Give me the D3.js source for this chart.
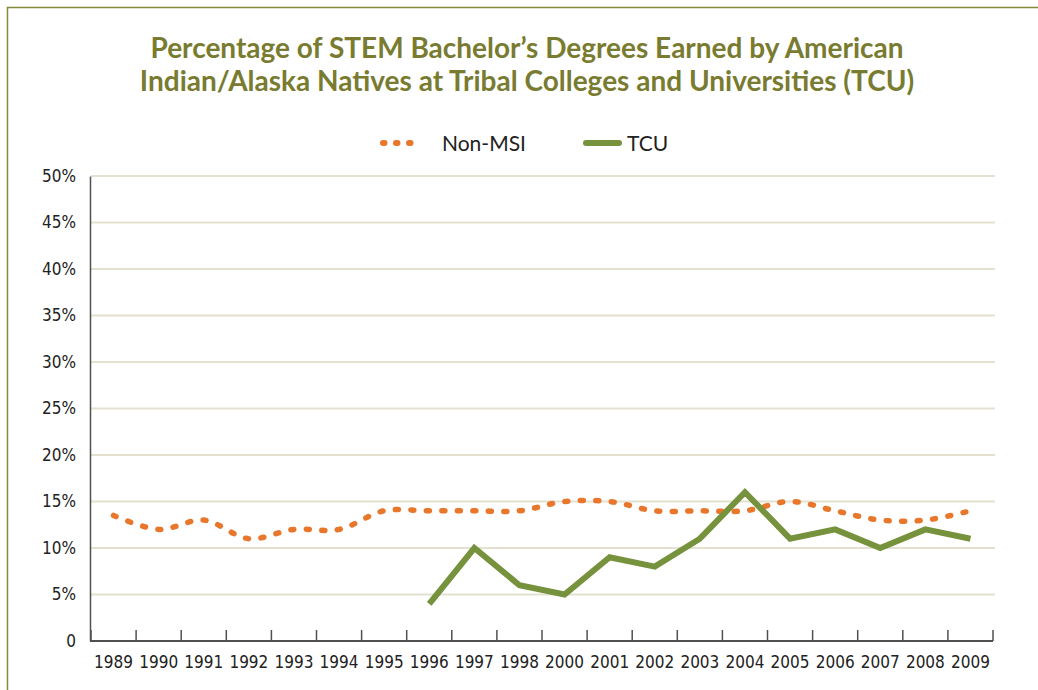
<!DOCTYPE html>
<html>
<head>
<meta charset="utf-8">
<script src="https://cdn.jsdelivr.net/npm/d3@7"></script>
<style>
  body { margin: 0; background: #fff; }
  svg { display: block; }
</style>
</head>
<body>
<svg></svg>
<script>
// values (percent)
const years = ["1989", "1990", "1991", "1992", "1993", "1994", "1995", "1996", "1997", "1998",
               "2000", "2001", "2002", "2003", "2004", "2005", "2006", "2007", "2008", "2009"];
const nonMsi = [13.5, 12, 13, 11, 12, 12, 14, 14, 14, 14,
                15, 15, 14, 14, 14, 15, 14, 13, 13, 14];
const tcuYears = ["1996", "1997", "1998", "2000", "2001", "2002", "2003", "2004", "2005", "2006", "2007", "2008", "2009"];
const tcu = [4, 10, 6, 5, 9, 8, 11, 16, 11, 12, 10, 12, 11];
const yTicks = [0, 5, 10, 15, 20, 25, 30, 35, 40, 45, 50];

const titleLines = ["Percentage of STEM Bachelor\u2019s Degrees Earned by American",
                    "Indian/Alaska Natives at Tribal Colleges and Universities (TCU)"];

const W = 1038, H = 690;
const orange = "#e8762b";
const green = "#76923c";
const olive = "#787b30";
const tickFont = "'DejaVu Sans Condensed', 'DejaVu Sans', sans-serif";

const svg = d3.select("svg").attr("width", W).attr("height", H);

// frame
svg.append("path")
    .attr("d", `M7.5,${H} V7.5 H${W}`)
    .attr("fill", "none")
    .attr("stroke", "#858a3c")
    .attr("stroke-width", 1.5);

// title
svg.append("g").selectAll("text")
    .data(titleLines)
    .join("text")
    .attr("x", 527)
    .attr("y", (d, i) => 58 + i * 33)
    .attr("text-anchor", "middle")
    .attr("font-family", "Lato, 'Open Sans', sans-serif")
    .attr("font-weight", "bold")
    .attr("font-size", 28)
    .attr("fill", olive)
    .text(d => d);

// scales
const x = d3.scaleBand().domain(years).range([91, 993]).padding(0);
const y = d3.scaleLinear().domain([0, 50]).range([641, 176]);
const cx = d => x(d) + x.bandwidth() / 2;

// gridlines
svg.append("g").selectAll("line")
    .data(yTicks.filter(d => d > 0))
    .join("line")
    .attr("x1", 91).attr("x2", 995)
    .attr("y1", d => y(d)).attr("y2", d => y(d))
    .attr("stroke", "#e4e1d0")
    .attr("stroke-width", 2);

// y axis
const yAxis = d3.axisLeft(y)
    .tickValues(yTicks)
    .tickSize(0)
    .tickPadding(14)
    .tickFormat(d => d === 0 ? "0" : d + "%");

const yAxisG = svg.append("g")
    .attr("transform", "translate(90,0)")
    .call(yAxis);
yAxisG.select(".domain").attr("stroke", "#505050").attr("stroke-width", 1.5);
yAxisG.selectAll("text")
    .attr("font-family", tickFont)
    .attr("font-size", 17)
    .attr("fill", "#222");

// x axis: labels at category centres, ticks between categories
const xAxis = d3.axisBottom(x).tickSize(0).tickPadding(15);
const xAxisG = svg.append("g")
    .attr("transform", `translate(0,${y(0)})`)
    .call(xAxis);
xAxisG.select(".domain").remove();
xAxisG.selectAll("text")
    .attr("font-family", tickFont)
    .attr("font-size", 17)
    .attr("fill", "#222");

const bounds = years.map(d => x(d)).concat([x.range()[1]]);
svg.append("g").selectAll("line")
    .data(bounds)
    .join("line")
    .attr("x1", d => d).attr("x2", d => d)
    .attr("y1", y(0)).attr("y2", y(0) - 11)
    .attr("stroke", "#505050")
    .attr("stroke-width", 1.5);

svg.append("line")
    .attr("x1", 90).attr("x2", 993)
    .attr("y1", y(0)).attr("y2", y(0))
    .attr("stroke", "#505050")
    .attr("stroke-width", 2);

// lines
const line = d3.line()
    .x(d => cx(d.year))
    .y(d => y(d.value));

const nonMsiData = years.map((d, i) => ({year: d, value: nonMsi[i]}));
const tcuData = tcuYears.map((d, i) => ({year: d, value: tcu[i]}));

svg.append("path")
    .datum(nonMsiData)
    .attr("d", line.curve(d3.curveCatmullRom.alpha(0.5)))
    .attr("fill", "none")
    .attr("stroke", orange)
    .attr("stroke-width", 5.5)
    .attr("stroke-linecap", "round")
    .attr("stroke-dasharray", "3 12.5");

svg.append("path")
    .datum(tcuData)
    .attr("d", line.curve(d3.curveLinear))
    .attr("fill", "none")
    .attr("stroke", green)
    .attr("stroke-width", 6)
    .attr("stroke-linejoin", "miter");

// legend
const legend = svg.append("g");
legend.append("line")
    .attr("x1", 383).attr("x2", 417)
    .attr("y1", 143).attr("y2", 143)
    .attr("stroke", orange)
    .attr("stroke-width", 6)
    .attr("stroke-linecap", "round")
    .attr("stroke-dasharray", "1.5 11.5");
legend.append("text")
    .attr("x", 442).attr("y", 151)
    .attr("font-family", "Lato, 'Open Sans', sans-serif")
    .attr("font-size", 21)
    .attr("fill", "#222")
    .text("Non-MSI");
legend.append("line")
    .attr("x1", 586).attr("x2", 619)
    .attr("y1", 143).attr("y2", 143)
    .attr("stroke", green)
    .attr("stroke-width", 6)
    .attr("stroke-linecap", "round");
legend.append("text")
    .attr("x", 627).attr("y", 151)
    .attr("font-family", "Lato, 'Open Sans', sans-serif")
    .attr("font-size", 21)
    .attr("fill", "#222")
    .text("TCU");
</script>
</body>
</html>
